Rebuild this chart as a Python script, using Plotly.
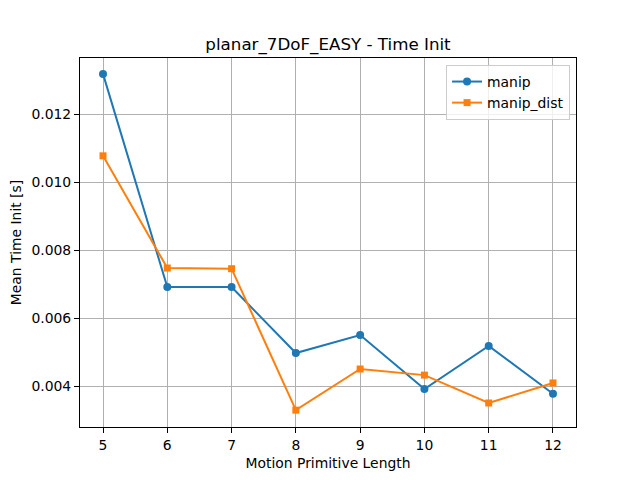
import plotly.graph_objects as go

lengths = [5, 6, 7, 8, 9, 10, 11, 12]
manip = [0.01318, 0.00691, 0.00691, 0.00497, 0.00550, 0.00391, 0.00518, 0.00377]
manip_dist = [0.01077, 0.00747, 0.00745, 0.00329, 0.00450, 0.00432, 0.00350, 0.00409]
y_ticks = [0.004, 0.006, 0.008, 0.010, 0.012]

fig = go.Figure()
fig.add_trace(go.Scatter(x=lengths, y=manip, mode="lines+markers", name="manip",
                         line=dict(color="#1f77b4", width=2),
                         marker=dict(symbol="circle", size=8, color="#1f77b4")))
fig.add_trace(go.Scatter(x=lengths, y=manip_dist, mode="lines+markers", name="manip_dist",
                         line=dict(color="#ff7f0e", width=2),
                         marker=dict(symbol="square", size=7, color="#ff7f0e")))

axis_common = dict(showline=True, linecolor="black", linewidth=1, mirror=True,
                   showgrid=True, gridcolor="#b0b0b0", gridwidth=1,
                   ticks="outside", ticklen=5, tickcolor="black", zeroline=False,
                   automargin=False,
                   tickfont=dict(size=13.9, color="black"))

fig.update_layout(
    width=640, height=480,
    margin=dict(l=72, r=72, t=50, b=61),
    paper_bgcolor="white", plot_bgcolor="white",
    font=dict(family="DejaVu Sans", color="black"),
    title=dict(text="planar_7DoF_EASY - Time Init", xref="paper", x=0.5, xanchor="center",
               y=0.913, yanchor="bottom", font=dict(size=16.7)),
    xaxis=dict(range=[4.642, 12.358], tickvals=lengths,
               title=dict(text="Motion Primitive Length", font=dict(size=13.9), standoff=6),
               **axis_common),
    yaxis=dict(range=[0.002794, 0.013647], tickvals=y_ticks, tickformat=".3f",
               title=dict(text="Mean Time Init [s]", font=dict(size=13.9), standoff=8),
               **axis_common),
    legend=dict(x=0.988, y=0.981, xanchor="right", yanchor="top",
                bordercolor="#cccccc", borderwidth=1, bgcolor="rgba(255,255,255,0.8)",
                font=dict(size=13.9)),
)

fig.write_html("out.html")
